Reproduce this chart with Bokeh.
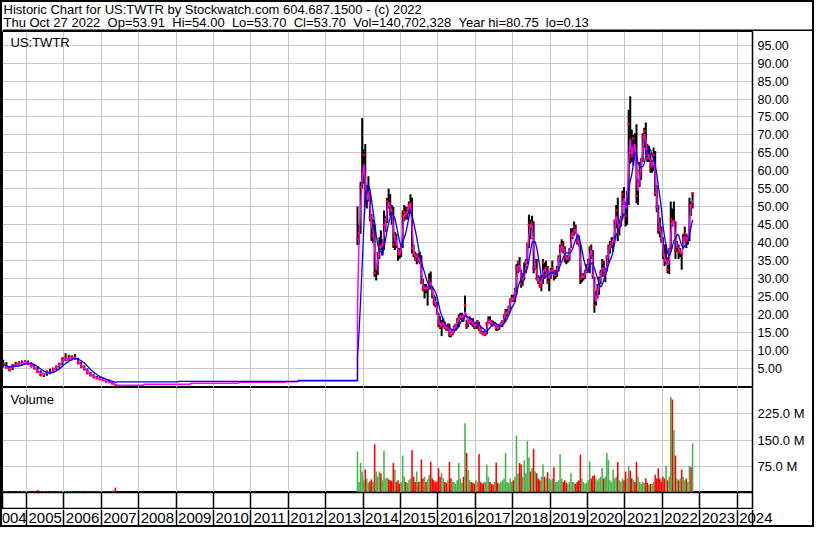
import numpy as np
import pandas as pd
from bokeh.plotting import figure
from bokeh.layouts import column
from bokeh.models import Range1d, FixedTicker, NumeralTickFormatter, Label, Span
from bokeh.core.properties import value
from bokeh.embed import file_html
from bokeh.resources import INLINE

# ---------------- texts / ticks ----------------
header_line1 = "Historic Chart for US:TWTR by Stockwatch.com 604.687.1500 - (c) 2022"
header_line2 = ("Thu Oct 27 2022\u00a0\u00a0Op=53.91\u00a0\u00a0Hi=54.00\u00a0\u00a0Lo=53.70\u00a0\u00a0"
                "Cl=53.70\u00a0\u00a0Vol=140,702,328\u00a0\u00a0Year hi=80.75\u00a0\u00a0lo=0.13")
symbol_label = "US:TWTR"
volume_label = "Volume"

year_ticks = list(range(2005, 2025))
year_label_years = list(range(2004, 2025))
year_labels = [str(y) for y in year_label_years]
price_ticks = list(range(5, 100, 5))
volume_ticks = [75_000_000, 150_000_000, 225_000_000]
volume_tick_labels = ["75.0 M", "150.0 M", "225.0 M"]

# ---------------- old listing (monthly bars, 2004-2007) ----------------
old_start = 2004.38
old_high = [7.4, 6.8, 5.6, 6.2, 6.8, 7.0, 7.2, 7.3, 7.2, 6.7,
            6.2, 5.4, 4.4, 3.8, 4.4, 4.9, 5.2, 5.8, 6.6, 8.1,
            9.2, 8.8, 8.6, 9.0, 8.0, 6.8, 5.8, 5.0, 4.0, 3.4,
            2.9, 2.6, 2.3, 2.0, 1.7, 1.4, 0.7]
old_low = [5.3, 5.0, 4.2, 4.6, 5.4, 5.6, 5.8, 6.0, 5.9, 5.3,
           4.8, 3.8, 2.8, 2.6, 3.0, 3.4, 3.7, 4.5, 5.0, 5.8,
           7.0, 7.1, 7.2, 7.4, 6.2, 5.2, 4.5, 3.5, 2.8, 2.3,
           2.0, 1.8, 1.5, 1.2, 1.0, 0.6, 0.13]
old_close = [6.2, 5.3, 4.6, 5.9, 6.1, 6.4, 6.6, 6.8, 6.3, 5.7,
             5.0, 4.0, 3.2, 3.4, 4.1, 3.8, 4.9, 5.4, 6.2, 7.6,
             8.0, 7.4, 8.3, 7.9, 6.5, 5.4, 4.8, 3.7, 3.1, 2.6,
             2.3, 2.0, 1.8, 1.4, 1.2, 0.8, 0.3]
old_volume_m = [3, 4, 3, 3, 2, 3, 4, 3, 3, 2,
                5, 7, 4, 3, 3, 4, 3, 3, 4, 5,
                6, 4, 3, 3, 4, 3, 3, 4, 3, 3,
                3, 4, 3, 4, 3, 5, 14]

# ---------------- averages through the no-data gap (read as steps) ----------------
gap_fast_x = [2007.43, 2008.13, 2009.38, 2010.67, 2011.92, 2012.26]
gap_fast = [0.35, 0.6, 0.9, 1.15, 1.3, 1.5]
gap_slow_x = [2007.43, 2009.06, 2012.26]
gap_slow = [1.24, 1.42, 1.69]

# ---------------- TWTR (half-month bars, Nov 2013 - Oct 2022) ----------------
twtr_start = 2013.85
twtr_high = [
    50.1, 45.0, 57.0, 74.7, 66.0, 67.5, 56.0, 58.5, 54.0, 48.0, 46.5, 45.0, 34.0, 37.5, 41.5, 43.5, 41.0, 49.0, 47.5, 52.5, 55.0, 53.5, 50.5, 50.0,
    43.0, 42.5, 38.5, 38.5, 40.0, 49.0, 50.5, 50.0, 50.0, 51.5, 53.5, 52.5, 39.5, 37.5, 37.0, 37.0, 37.5, 36.5, 30.0, 28.5, 28.5, 28.0, 31.5, 32.0,
    28.0, 25.5, 25.0, 23.5, 20.5, 19.5, 18.5, 19.0, 18.0, 17.0, 17.5, 17.5, 15.0, 16.0, 17.0, 17.5, 19.0, 20.0, 20.5, 20.5, 20.0, 25.3, 18.5, 18.5,
    19.5, 19.0, 19.0, 17.5, 18.0, 18.5, 18.0, 16.5, 15.5, 15.5, 15.0, 18.0, 19.5, 19.5, 18.5, 18.3, 18.0, 17.5, 16.8, 17.2, 17.8, 18.5, 20.0, 21.5,
    21.5, 22.5, 24.5, 25.5, 25.5, 27.5, 34.0, 35.0, 36.0, 32.5, 31.5, 34.5, 35.5, 40.0, 47.8, 46.5, 47.5, 46.0, 35.5, 35.5, 31.0, 30.5, 31.0, 35.5,
    34.5, 35.0, 33.5, 31.5, 33.0, 35.0, 32.5, 32.5, 33.5, 36.5, 39.5, 41.0, 40.5, 39.0, 36.5, 36.5, 38.5, 44.0, 44.0, 45.9, 45.0, 42.5, 41.5, 39.5,
    31.5, 31.5, 32.5, 34.0, 35.5, 39.0, 39.5, 38.0, 30.5, 26.5, 28.5, 30.5, 32.5, 35.5, 35.0, 33.0, 36.5, 39.5, 40.5, 41.5, 41.5, 46.5, 50.5, 52.5,
    46.5, 47.5, 54.5, 55.5, 51.5, 54.5, 77.0, 80.75, 71.5, 70.0, 70.5, 73.0, 57.5, 62.5, 63.5, 70.5, 72.0, 73.5, 67.5, 67.0, 65.0, 63.0, 66.5, 65.5,
    56.0, 50.5, 47.0, 44.5, 41.5, 39.5, 39.5, 36.0, 38.5, 51.5, 49.5, 51.5, 46.0, 40.5, 39.5, 38.5, 37.5, 42.5, 44.5, 42.5, 42.0, 52.5, 51.5, 54.0]
twtr_low = [
    39.4, 39.5, 42.5, 55.0, 56.5, 50.0, 49.5, 51.5, 46.0, 40.5, 40.0, 30.5, 29.5, 31.0, 35.5, 38.0, 36.5, 38.0, 43.0, 45.5, 49.5, 47.5, 45.0, 38.5,
    38.0, 38.5, 35.0, 35.5, 36.0, 38.5, 46.0, 46.5, 46.5, 48.0, 49.0, 37.0, 36.0, 35.0, 34.0, 34.5, 34.0, 28.5, 26.5, 24.5, 26.0, 22.5, 27.0, 27.0,
    24.5, 22.5, 22.0, 20.0, 16.5, 16.0, 14.0, 16.5, 16.0, 15.5, 15.5, 13.7, 13.7, 14.2, 15.0, 15.5, 16.5, 16.5, 18.5, 18.0, 18.0, 19.5, 16.0, 16.5,
    17.5, 17.0, 16.5, 16.0, 16.0, 16.0, 15.5, 15.0, 14.5, 14.2, 14.0, 14.5, 17.5, 17.5, 16.8, 16.8, 16.8, 15.5, 15.5, 15.8, 16.5, 16.5, 17.5, 18.0,
    19.5, 20.5, 21.5, 23.5, 23.5, 23.5, 25.5, 31.5, 32.0, 27.5, 28.0, 29.5, 31.5, 34.0, 38.5, 41.0, 43.5, 31.5, 32.5, 29.5, 28.5, 27.5, 26.5, 28.5,
    30.0, 30.5, 28.5, 26.5, 30.0, 31.5, 29.5, 30.0, 30.5, 32.0, 34.5, 37.5, 37.0, 34.5, 34.0, 34.5, 35.0, 38.5, 41.0, 42.0, 42.5, 39.5, 39.0, 28.5,
    29.0, 29.5, 30.0, 31.5, 32.5, 31.5, 35.5, 30.0, 20.5, 22.5, 24.5, 25.5, 28.5, 30.5, 30.5, 29.0, 32.0, 34.5, 37.0, 38.5, 37.5, 41.0, 44.0, 40.5,
    42.0, 44.5, 46.5, 50.5, 44.5, 45.0, 50.5, 62.0, 62.5, 61.5, 63.5, 51.0, 50.5, 55.5, 57.5, 62.5, 66.5, 64.5, 62.5, 62.5, 59.5, 59.5, 60.0, 53.0,
    48.5, 42.5, 41.5, 40.0, 35.5, 33.5, 34.0, 31.5, 31.3, 37.5, 44.5, 45.5, 35.5, 37.5, 35.5, 36.0, 32.5, 38.5, 40.5, 38.5, 39.5, 40.5, 47.5, 49.5]
twtr_close = [
    41.0, 42.7, 55.5, 59.3, 64.5, 50.5, 53.5, 54.0, 47.0, 42.0, 45.5, 31.5, 33.0, 37.0, 39.0, 38.8, 39.5, 45.0, 46.5, 51.5, 51.0, 49.0, 48.5, 39.5,
    41.5, 39.5, 37.0, 36.8, 39.0, 47.5, 48.5, 47.5, 49.5, 50.5, 51.0, 38.5, 37.0, 35.5, 36.5, 35.0, 35.5, 29.0, 27.0, 27.5, 27.0, 27.5, 29.5, 28.5,
    25.5, 23.5, 23.0, 20.5, 17.5, 16.5, 17.5, 17.5, 16.5, 16.0, 17.0, 14.5, 14.3, 15.5, 16.5, 17.0, 18.5, 19.0, 19.5, 19.5, 19.0, 22.5, 17.0, 17.8,
    18.5, 18.0, 17.5, 16.5, 17.5, 18.0, 16.0, 15.0, 14.8, 14.5, 14.7, 17.5, 18.5, 18.0, 17.5, 17.0, 17.5, 16.3, 16.2, 17.0, 17.3, 18.0, 19.8, 20.5,
    20.5, 22.0, 24.0, 24.5, 24.0, 26.0, 33.0, 34.5, 32.5, 28.5, 30.5, 31.5, 34.5, 39.5, 45.0, 44.5, 45.5, 33.0, 34.0, 30.0, 29.5, 28.0, 29.0, 34.5,
    31.0, 33.0, 29.0, 31.0, 32.0, 33.0, 31.0, 31.0, 32.5, 35.5, 38.5, 39.5, 38.0, 36.0, 35.5, 35.5, 38.0, 42.0, 42.5, 44.5, 43.0, 40.5, 40.0, 30.0,
    30.5, 30.5, 32.0, 33.0, 34.5, 38.5, 37.5, 31.0, 22.5, 24.5, 27.0, 29.5, 31.5, 34.5, 31.0, 31.5, 36.0, 38.5, 39.0, 40.0, 40.5, 46.0, 49.0, 42.5,
    45.0, 46.5, 53.5, 51.5, 47.5, 53.0, 73.0, 65.0, 64.0, 69.0, 66.0, 53.0, 56.0, 60.0, 62.5, 69.5, 71.0, 66.0, 63.5, 64.5, 61.0, 61.5, 64.5, 54.0,
    50.0, 44.0, 43.5, 41.0, 36.5, 35.0, 35.0, 32.5, 38.0, 46.5, 45.5, 46.0, 38.0, 39.5, 37.5, 37.5, 37.0, 41.0, 42.5, 40.5, 41.0, 50.5, 50.0, 53.7]
twtr_volume_m = [
    117, 30, 84, 60, 35, 66, 40, 28, 32, 38, 30, 138, 60, 45, 60, 55, 35, 119, 40, 42, 38, 35, 33, 84,
    66, 30, 35, 25, 30, 106, 45, 30, 28, 35, 40, 121, 45, 30, 60, 30, 32, 94, 40, 45, 30, 38, 50, 88,
    40, 35, 30, 32, 69, 45, 55, 40, 30, 28, 35, 87, 40, 30, 30, 25, 35, 84, 40, 28, 45, 198, 113, 64,
    35, 30, 28, 25, 35, 30, 110, 30, 25, 28, 30, 80, 45, 30, 25, 22, 30, 86, 28, 25, 30, 35, 40, 113,
    30, 28, 40, 30, 35, 45, 163, 55, 84, 80, 45, 92, 55, 147, 100, 60, 70, 125, 60, 55, 40, 35, 45, 80,
    45, 40, 58, 40, 35, 40, 72, 30, 30, 35, 109, 40, 30, 35, 28, 25, 30, 55, 30, 28, 25, 30, 35, 108,
    40, 30, 25, 28, 35, 89, 40, 47, 50, 40, 35, 40, 45, 70, 40, 45, 113, 92, 35, 30, 66, 40, 45, 87,
    35, 30, 40, 35, 60, 40, 76, 62, 40, 35, 30, 88, 45, 30, 25, 30, 28, 41, 28, 22, 25, 24, 30, 51,
    40, 69, 40, 30, 45, 40, 76, 35, 45, 273, 266, 179, 106, 40, 35, 40, 66, 45, 35, 40, 30, 76, 72, 140]

# ---------------- derived series ----------------
old_dates = old_start + np.arange(len(old_close)) / 12.0
twtr_dates = twtr_start + np.arange(len(twtr_close)) / 24.0


def sma(vals, w, seed=None):
    v = list(vals)
    if seed is None:
        return list(pd.Series(v).rolling(w, min_periods=1).mean())
    s = pd.Series([seed] * (w - 1) + v)
    return list(s.rolling(w).mean().to_numpy()[w - 1:])


def steps(xs, ys, x_stop):
    px, py = [], []
    for i, (x0, y0) in enumerate(zip(xs, ys)):
        x1 = xs[i + 1] if i + 1 < len(xs) else x_stop
        px += [x0, x1]
        py += [y0, y0]
    return px, py


gfx, gfy = steps(gap_fast_x, gap_fast, twtr_start)
gsx, gsy = steps(gap_slow_x, gap_slow, twtr_start)
fast_x = list(old_dates) + gfx + list(twtr_dates)
fast_y = sma(old_close, 2) + gfy + sma(twtr_close, 2, seed=gap_fast[-1])
slow_x = list(old_dates) + gsx + list(twtr_dates)
slow_y = sma(old_close, 5) + gsy + sma(twtr_close, 6, seed=gap_slow[-1])

GREEN, RED = "#47b247", "#ff0000"


def up_down(closes):
    cols, prev = [], closes[0]
    for c in closes:
        cols.append(GREEN if c >= prev else RED)
        prev = c
    return cols


old_vcol = up_down(old_close)
twtr_vcol = up_down(twtr_close)

# ---------------- layout ----------------
FONT = "Liberation Sans"
GRID = "#c8c8c8"
W = 810
RIGHT = 60
FRAME_W = W - RIGHT
H_HEAD, H_PRICE, H_VOL, H_ROW1, H_ROW2 = 29, 356, 105, 17, 16
x_start, x_end = 2004.36, 2024.41


def make_fig(frame_h, x_range, y_range, frame_w=FRAME_W, right=RIGHT, y_loc="right"):
    p = figure(frame_width=frame_w, frame_height=frame_h, x_range=x_range, y_range=y_range,
               output_backend="svg", toolbar_location=None,
               x_axis_location=None, y_axis_location=y_loc,
               min_border_left=0, min_border_right=right,
               min_border_top=0, min_border_bottom=0,
               background_fill_color="white", border_fill_color="white")
    return p


def style_axis(ax, size):
    ax.major_tick_line_color = None
    ax.minor_tick_line_color = None
    ax.major_tick_out = 0
    ax.major_tick_in = 0
    ax.axis_line_color = "black"
    ax.axis_line_width = 1.5
    ax.major_label_text_font = FONT
    ax.major_label_text_font_size = size
    ax.major_label_text_color = "black"
    ax.major_label_standoff = 5


# header
ph = make_fig(H_HEAD, Range1d(0, W), Range1d(H_HEAD, 0), frame_w=W, right=0, y_loc=None)
ph.grid.visible = False
ph.outline_line_color = None
ph.add_layout(Label(x=1, y=7, text=header_line1, text_font=FONT, text_font_size="13px",
                    text_baseline="middle", text_color="black"))
ph.add_layout(Label(x=1, y=19.5, text=header_line2, text_font=FONT, text_font_size="13px",
                    text_baseline="middle", text_color="black"))
ph.add_layout(Span(location=H_HEAD - 1, dimension="width", line_color="black", line_width=2))

# price panel
pa = make_fig(H_PRICE, Range1d(x_start, x_end), Range1d(-0.3, 98.8))
pa.outline_line_color = "black"
pa.outline_line_width = 1
style_axis(pa.yaxis[0], "12.5px")
pa.yaxis.ticker = FixedTicker(ticks=price_ticks)
pa.yaxis.formatter = NumeralTickFormatter(format="0.00")
pa.ygrid.ticker = FixedTicker(ticks=price_ticks)
pa.xgrid.ticker = FixedTicker(ticks=year_ticks)
pa.grid.grid_line_color = GRID
for d, lo, hi in ((old_dates, old_low, old_high), (twtr_dates, twtr_low, twtr_high)):
    pa.segment(x0=d, y0=lo, x1=d, y1=hi, line_color="black", line_width=2)
pa.scatter(list(old_dates) + list(twtr_dates), old_close + twtr_close, marker="square",
           size=2.5, fill_color="red", line_color=None)
pa.line(fast_x, fast_y, line_color="#ff00ff", line_width=1.5)
pa.line(slow_x, slow_y, line_color="#0000ff", line_width=1.3)
pa.add_layout(Label(x=x_start, y=98.8, x_offset=8, y_offset=-3, text=symbol_label,
                    text_font=FONT, text_font_size="13px", text_baseline="top", text_color="black"))

# volume panel
pb = make_fig(H_VOL, Range1d(x_start, x_end), Range1d(0, 300_000_000))
pb.outline_line_color = "black"
pb.outline_line_width = 1
style_axis(pb.yaxis[0], "13px")
pb.yaxis.ticker = FixedTicker(ticks=volume_ticks)
pb.yaxis.major_label_overrides = dict(zip(volume_ticks, volume_tick_labels))
pb.ygrid.ticker = FixedTicker(ticks=volume_ticks)
pb.xgrid.ticker = FixedTicker(ticks=year_ticks)
pb.grid.grid_line_color = GRID
pb.vbar(x=old_dates, top=[v * 1e6 for v in old_volume_m], width=1 / 24.0,
        fill_color=old_vcol, line_color=None)
pb.vbar(x=twtr_dates, top=[v * 1e6 for v in twtr_volume_m], width=1 / 24.0,
        fill_color=twtr_vcol, line_color=None)
pb.add_layout(Label(x=x_start, y=300_000_000, x_offset=8, y_offset=-4, text=volume_label,
                    text_font=FONT, text_font_size="13px", text_baseline="top", text_color="black"))

# empty year row
pc1 = make_fig(H_ROW1, Range1d(x_start, x_end), Range1d(0, 1), y_loc=None)
pc1.outline_line_color = "black"
pc1.outline_line_width = 1.5
pc1.ygrid.visible = False
pc1.xgrid.ticker = FixedTicker(ticks=year_ticks)
pc1.xgrid.grid_line_color = "black"
pc1.xgrid.grid_line_width = 1.5

# year label row (frame spans the full width so "2024" can overflow)
x_end_full = x_start + (x_end - x_start) * W / FRAME_W
pc2 = make_fig(H_ROW2, Range1d(x_start, x_end_full), Range1d(0, 1), frame_w=W, right=0, y_loc=None)
pc2.outline_line_color = None
pc2.ygrid.visible = False
pc2.xgrid.ticker = FixedTicker(ticks=year_ticks + [x_end])
pc2.xgrid.grid_line_color = "black"
pc2.xgrid.grid_line_width = 1.5
label_x = [y + 0.5 for y in year_label_years]
label_x[0] = x_start + 0.2   # first label sits against the left edge, as in the original
pc2.text(x=label_x, y=[0.45] * len(year_labels), text=year_labels,
         text_align="center", text_baseline="middle", text_font=value(FONT),
         text_font_size="15px", text_color="black")

layout = column(ph, pa, pb, pc1, pc2, spacing=0, styles={"border": "2px solid black"})

open("out.html", "w").write(file_html(layout, INLINE))
